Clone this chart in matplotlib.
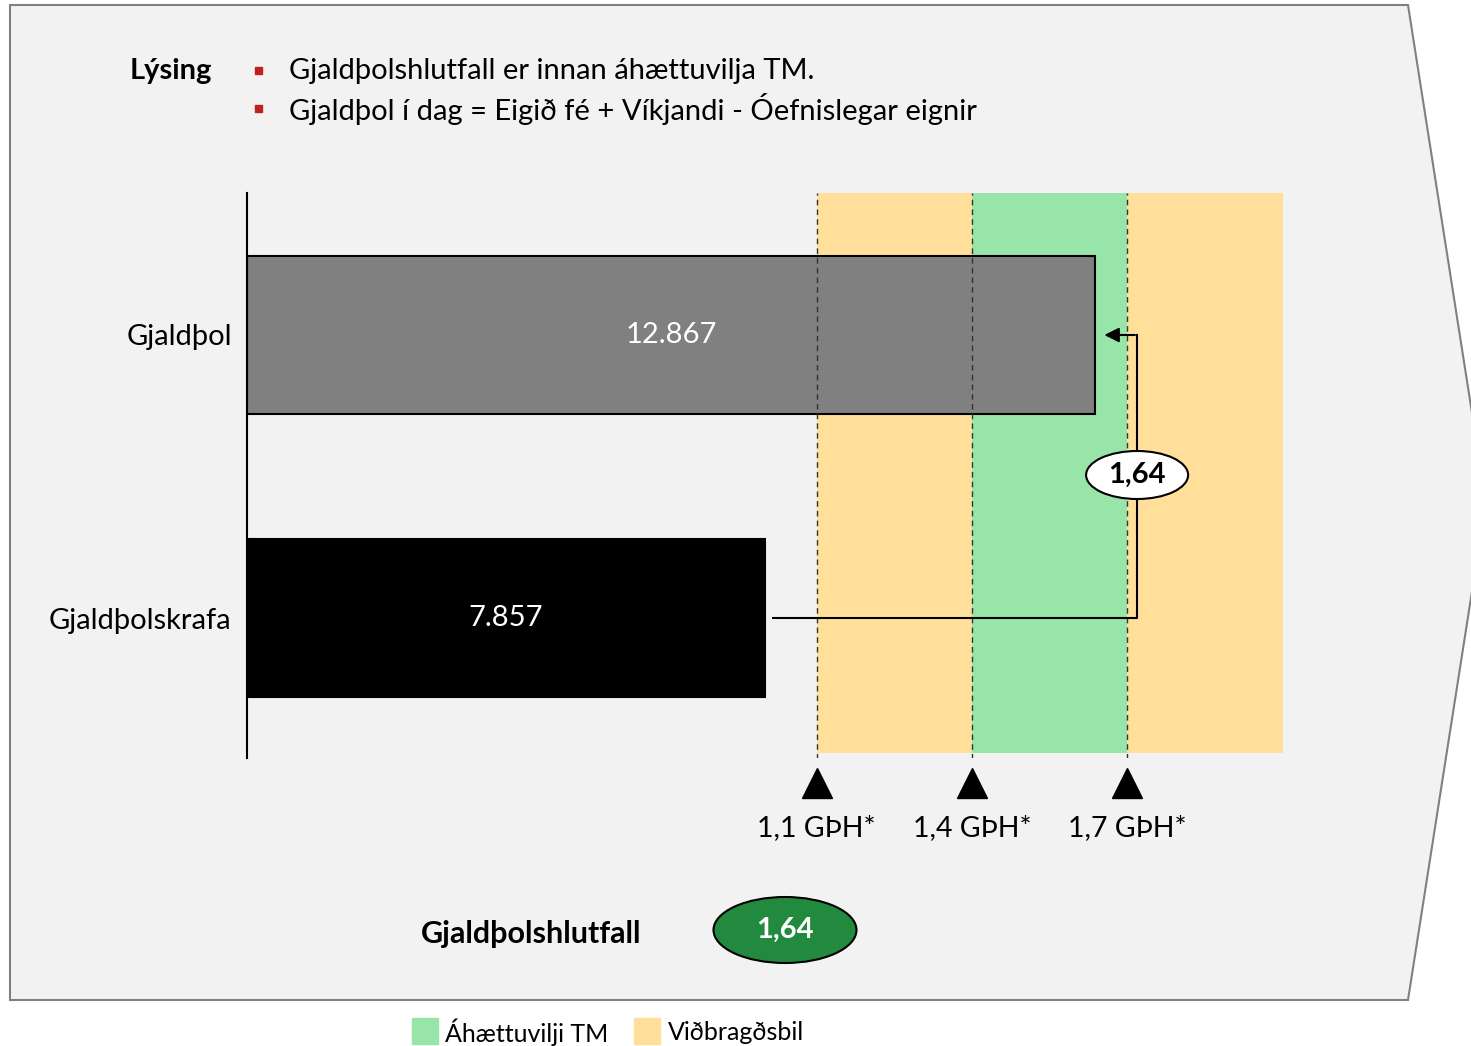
import matplotlib.pyplot as plt
import numpy as np
from matplotlib.patches import Polygon, Ellipse, Rectangle
from matplotlib.transforms import blended_transform_factory

plt.rcParams['font.family'] = ['Lato', 'DejaVu Sans']

# data
categories = ['Gjaldþolskrafa', 'Gjaldþol']
values = [7857, 12867]
value_labels = ['7.857', '12.867']
ratio_label = '1,64'
thresholds = [1.1, 1.4, 1.7]
threshold_labels = ['1,1 GÞH*', '1,4 GÞH*', '1,7 GÞH*']
band_edges = [1.1, 1.4, 1.7, 2.0]
band_kinds = ['vid', 'ahaetta', 'vid']
bullets = ['Gjaldþolshlutfall er innan áhættuvilja TM.',
           'Gjaldþol í dag = Eigið fé + Víkjandi - Óefnislegar eignir']

GREEN = '#98e5a9'
ORANGE = '#ffdf99'
BG = '#f2f2f2'

W, H = 1471, 1046
fig = plt.figure(figsize=(W / 100, H / 100), dpi=100)

"""Background arrow shape in pixel coords"""
bg = fig.add_axes([0, 0, 1, 1])
bg.set_xlim(0, W)
bg.set_ylim(H, 0)
bg.axis('off')
bg.add_patch(Polygon([[10, 5], [1408, 5], [1486, 502], [1408, 1000], [10, 1000]],
                     closed=True, facecolor=BG, edgecolor='#808080', lw=1.5))

bg.text(171, 71, 'Lýsing', fontsize=21, fontweight='bold', ha='center', va='center')
for i, b in enumerate(bullets):
    y = 71 + i * 38
    bg.add_patch(Rectangle((255, y - 4), 7, 7, color='#c0201e'))
    bg.text(289, y, b, fontsize=21, ha='left', va='center')

bg.text(531, 934, 'Gjaldþolshlutfall', fontsize=22, fontweight='bold', ha='center', va='center')
bg.add_patch(Ellipse((785, 930), 143, 66, facecolor='#228a3e', edgecolor='black', lw=1.5))
bg.text(785, 930, ratio_label, fontsize=21, fontweight='bold', color='white', ha='center', va='center')

# legend
bg.add_patch(Rectangle((412, 1018), 26, 26, color=GREEN))
bg.text(445, 1032, 'Áhættuvilji TM', fontsize=18, ha='left', va='center')
bg.add_patch(Rectangle((634, 1018), 26, 26, color=ORANGE))
bg.text(668, 1032, 'Viðbragðsbil', fontsize=18, ha='left', va='center')

"""Chart axes"""
px_per_unit = 0.0659
xmax = 16000
ax_left, ax_top, ax_bot = 247, 193, 758
ax = fig.add_axes([ax_left / W, 1 - ax_bot / H, xmax * px_per_unit / W, (ax_bot - ax_top) / H])
ax.patch.set_alpha(0)
ax.set_xlim(0, xmax)
ylo = -(ax_bot - 618) / 283
yhi = 1 + (335 - ax_top) / 283
ax.set_ylim(ylo, yhi)
for s in ['top', 'right', 'bottom']:
    ax.spines[s].set_visible(False)
ax.spines['left'].set_linewidth(1.5)
ax.set_xticks([])
ax.set_yticks([0, 1])
ax.set_yticklabels(categories, fontsize=21)
ax.tick_params(axis='y', length=0, pad=11)

req = values[0]
band_bottom = (753 - ax_bot) / (ax_top - ax_bot)
for lo, hi, kind in zip(band_edges[:-1], band_edges[1:], band_kinds):
    ax.axvspan(lo * req, hi * req, ymin=band_bottom, ymax=1,
               color=GREEN if kind == 'ahaetta' else ORANGE, lw=0, zorder=0)

ys = np.arange(len(categories))
ax.barh(ys, values, height=0.555, color=['black', '#808080'], edgecolor='black', lw=1.5, zorder=1)
for y, v, lab in zip(ys, values, value_labels):
    ax.text(v / 2, y, lab, color='white', fontsize=21, ha='center', va='center', zorder=3)

for t in thresholds:
    ax.plot([t * req, t * req], [ylo - 0.005, yhi], color='#333333', lw=1, ls=(0, (4, 3)), zorder=2)

tr = blended_transform_factory(ax.transData, ax.transAxes)
tri_y = (ax_bot - 783) / (ax_bot - ax_top)
lab_y = (ax_bot - 828) / (ax_bot - ax_top)
for t, lab in zip(thresholds, threshold_labels):
    ax.plot(t * req, tri_y, marker='^', markersize=22, color='black', transform=tr, clip_on=False)
    ax.text(t * req, lab_y, lab, fontsize=20.5, ha='center', va='center', transform=tr, clip_on=False)

# connector with ratio
cx = thresholds[-1] * req + 150
ax.plot([req + 120, cx, cx], [0, 0, 1], color='black', lw=1.5, zorder=4)
ax.annotate('', xy=(values[1] + 100, 1), xytext=(cx + 10, 1),
            arrowprops=dict(arrowstyle='-|>', color='black', lw=1.5, mutation_scale=22), zorder=4)
mid_y = (618 - 475) / 283
ax.add_patch(Ellipse((cx, mid_y), 102 / px_per_unit, 48 / 283, facecolor='white',
                     edgecolor='black', lw=1.5, zorder=5))
ax.text(cx, mid_y, ratio_label, fontsize=21, fontweight='bold', ha='center', va='center', zorder=6)

fig.savefig('out.png', dpi=100)
